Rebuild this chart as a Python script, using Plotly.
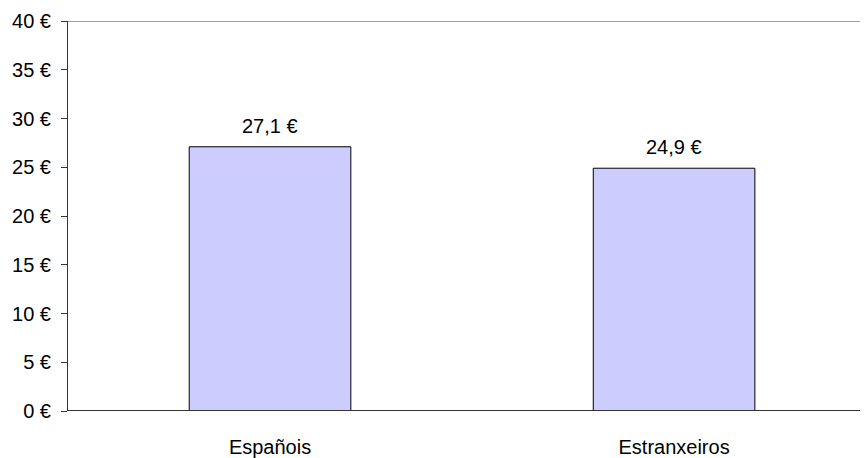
import plotly.graph_objects as go

categories = ["Españois", "Estranxeiros"]
values = [27.1, 24.9]
value_labels = ["27,1 €", "24,9 €"]
tick_vals = [0, 5, 10, 15, 20, 25, 30, 35, 40]
tick_text = ["0 €", "5 €", "10 €", "15 €", "20 €", "25 €", "30 €", "35 €", "40 €"]

font = dict(family="Liberation Sans, Arial, sans-serif", size=20, color="black")

fig = go.Figure()
fig.add_trace(go.Bar(
    x=categories, y=values, width=0.4,
    marker=dict(color="#CCCCFF", line=dict(color="black", width=1)),
    hoverinfo="skip",
))

for c, v, t in zip(categories, values, value_labels):
    fig.add_annotation(x=c, y=v, text=t, showarrow=False, yanchor="bottom",
                       yshift=8, font=font)

fig.add_shape(type="line", xref="paper", x0=0, x1=1, yref="y", y0=40, y1=40,
              line=dict(color="#a0a0a0", width=2), layer="below")

fig.update_layout(
    width=860, height=450,
    margin=dict(l=60, r=0, t=13, b=47),
    paper_bgcolor="white", plot_bgcolor="white",
    font=font, showlegend=False,
    xaxis=dict(range=[-0.5, 1.48], showgrid=False, showline=False, zeroline=False,
               ticks="outside", ticklen=18, tickcolor="rgba(0,0,0,0)",
               tickfont=font, fixedrange=True, automargin=False),
    yaxis=dict(range=[0, 40], tickvals=tick_vals, ticktext=tick_text,
               showgrid=False, zeroline=False, showline=True, linecolor="#333333",
               linewidth=1, ticks="outside", ticklen=6, tickcolor="#333333",
               ticklabelstandoff=6, automargin=False,
               tickfont=font, fixedrange=True),
)
fig.add_shape(type="line", xref="paper", x0=0, x1=1, yref="y", y0=0, y1=0,
              line=dict(color="#333333", width=2))

fig.write_html("out.html")
